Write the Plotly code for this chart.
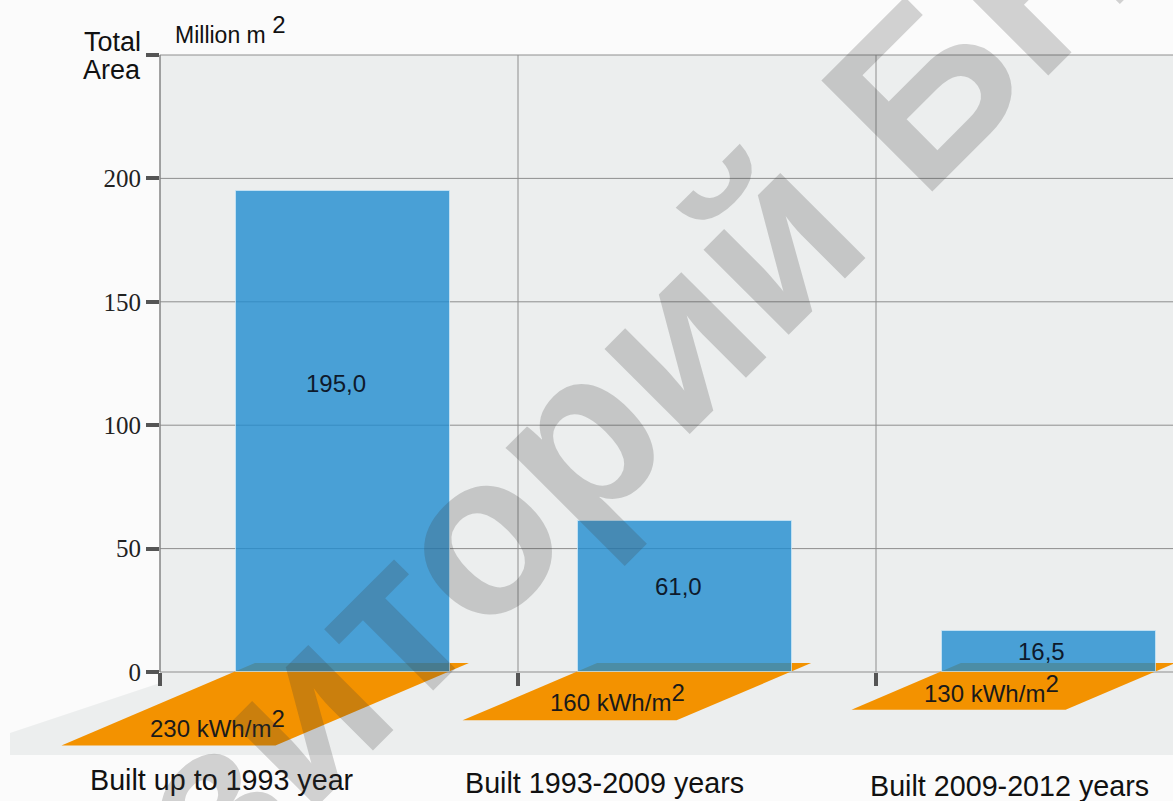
import plotly.graph_objects as go

# ---------------- data ----------------
categories = ["Built up to 1993 year", "Built 1993-2009 years", "Built 2009-2012 years"]
total_area = [195.0, 61.0, 16.5]            # million m2
area_labels = ["195,0", "61,0", "16,5"]
energy = [230, 160, 130]                      # kWh/m2
energy_labels = ["230 kWh/m", "160 kWh/m", "130 kWh/m"]
y_ticks = [0, 50, 100, 150, 200, 250]
y_ticktext = ["0", "50", "100", "150", "200", ""]

# ---------------- geometry / style ----------------
W, H = 1173, 801
ML, MR, MT, MB = 160, 0, 55, 46
PX_X = 358.0                    # px per x unit
PX_Y = 2.468                    # px per y unit
XR = [0, (W - ML - MR) / PX_X]
YR = [-(H - MB - 672) / PX_Y, 250.0]

bar_offset = [0.212, 0.168, 0.184]
bar_width = 0.598
label_y = [117, 34.5, 8.2]
cat_label_x = [0.173, 1.243, 2.374]
cat_label_py = [780, 783, 786]
energy_label_px = [(148, 723), (548, 697), (922, 688)]

BLUE = "rgba(32,140,208,0.8)"
ORANGE = "#F39200"
PLOT_BG = "#eceeee"
GRID = "#8e8e8e"


def xp(x):
    return (x - XR[0]) / (XR[1] - XR[0])


def yp(y):
    return (y - YR[0]) / (YR[1] - YR[0])


def py2paper(py):
    return (H - MB - py) / (H - MB - MT)


def px2paper(px):
    return (px - ML) / (W - ML - MR)


fig = go.Figure()

fig.add_trace(go.Bar(
    x=list(range(len(categories))), y=total_area,
    offset=bar_offset, width=bar_width,
    marker=dict(color=BLUE, line=dict(color="rgba(210,235,250,0.7)", width=1)),
    hoverinfo="y", showlegend=False,
))

shapes = []
# plot background
shapes.append(dict(type="rect", xref="paper", yref="paper", x0=0, x1=1, y0=0, y1=1,
                   fillcolor=PLOT_BG, line=dict(width=0), layer="below"))
# floor extension left of the axis
shapes.append(dict(type="path", xref="paper", yref="paper",
                   path=f"M {px2paper(10):.4f} 0 L {px2paper(10):.4f} {py2paper(733):.4f} "
                        f"L 0 {py2paper(683):.4f} L 0 0 Z",
                   fillcolor=PLOT_BG, line=dict(width=0), layer="below"))
# horizontal grid lines
for t in y_ticks:
    shapes.append(dict(type="line", xref="paper", yref="paper", x0=0, x1=1,
                       y0=yp(t), y1=yp(t), line=dict(color=GRID, width=1), layer="below"))
# vertical grid lines (stop at zero)
for i in range(1, len(categories)):
    shapes.append(dict(type="line", xref="paper", yref="paper", x0=xp(i), x1=xp(i),
                       y0=yp(0), y1=yp(250), line=dict(color=GRID, width=1), layer="below"))
# y axis line
shapes.append(dict(type="line", xref="paper", yref="paper", x0=0, x1=0,
                   y0=yp(0), y1=yp(250), line=dict(color="#858585", width=1.5), layer="below"))

# orange energy parallelograms (depth scaled by energy demand)
TOP = 3.6
K_DEPTH = 0.145
SHIFT = 0.053
SLANT = 2.468 * 2.35 / 358
annotations = []
for i, e in enumerate(energy):
    left = i + bar_offset[i] + SHIFT
    right = left + bar_width
    depth = e * K_DEPTH
    slant = depth * SLANT
    bot = TOP - depth
    path = (f"M {xp(left):.4f} {yp(TOP):.4f} L {xp(right):.4f} {yp(TOP):.4f} "
            f"L {xp(right - slant):.4f} {yp(bot):.4f} L {xp(left - slant):.4f} {yp(bot):.4f} Z")
    shapes.append(dict(type="path", xref="paper", yref="paper", path=path,
                       fillcolor=ORANGE, line=dict(width=0), layer="below"))
    lx, ly = energy_label_px[i]
    annotations.append(dict(
        x=px2paper(lx), y=py2paper(ly), xref="paper", yref="paper", showarrow=False,
        text=energy_labels[i] + '<sup><span style="font-size:24px">2</span></sup>',
        font=dict(family="Liberation Sans, Arial", size=24, color="#1a1a1a"),
        xanchor="left", yanchor="middle"))

# bar value labels
for i, v in enumerate(total_area):
    annotations.append(dict(
        x=i + bar_offset[i] + bar_width / 2 - 0.02, y=label_y[i], xref="x", yref="y",
        text=area_labels[i], showarrow=False,
        font=dict(family="Liberation Sans, Arial", size=24, color="#0e1a2c")))

# category labels
for i, c in enumerate(categories):
    annotations.append(dict(
        x=cat_label_x[i], y=py2paper(cat_label_py[i]), xref="x", yref="paper",
        text=c, showarrow=False, xanchor="center", yanchor="middle",
        font=dict(family="Liberation Sans, Arial", size=28.7, color="#111111")))

# axis titles
annotations.append(dict(x=px2paper(143), y=py2paper(42), xref="paper", yref="paper",
                        text="Total", showarrow=False, xanchor="right", yanchor="middle",
                        font=dict(family="Liberation Sans, Arial", size=27, color="#111111")))
annotations.append(dict(x=px2paper(143), y=py2paper(70), xref="paper", yref="paper",
                        text="Area", showarrow=False, xanchor="right", yanchor="middle",
                        font=dict(family="Liberation Sans, Arial", size=27, color="#111111")))
annotations.append(dict(x=px2paper(173), y=py2paper(30), xref="paper", yref="paper",
                        text='Million m <sup><span style="font-size:24px">2</span></sup>',
                        showarrow=False, xanchor="left", yanchor="middle",
                        font=dict(family="Liberation Sans, Arial", size=23, color="#111111")))

# watermark
annotations.append(dict(x=px2paper(540), y=py2paper(472), xref="paper", yref="paper",
                        text="<b>Репозиторий БНТУ</b>", showarrow=False, textangle=-45,
                        xanchor="center", yanchor="middle",
                        font=dict(family="Liberation Sans, Arial", size=228,
                                  color="rgba(60,60,60,0.22)")))

fig.update_layout(
    width=W, height=H,
    margin=dict(l=ML, r=MR, t=MT, b=MB, pad=0),
    paper_bgcolor="#fbfbfb", plot_bgcolor="rgba(0,0,0,0)",
    shapes=shapes, annotations=annotations,
    bargap=0,
    xaxis=dict(range=XR, showgrid=False, zeroline=False, showline=False,
               tickvals=list(range(len(categories))), ticks="outside", ticklen=13,
               tickwidth=4, tickcolor="#555555", showticklabels=False,
               anchor="free", position=yp(0), fixedrange=True),
    yaxis=dict(range=YR, showgrid=False, zeroline=False, showline=False,
               tickvals=y_ticks, ticktext=y_ticktext, ticks="outside", ticklen=13,
               tickwidth=4, tickcolor="#555555",
               tickfont=dict(family="Liberation Serif, Times New Roman", size=25, color="#222222"),
               fixedrange=True),
)

fig.write_html("out.html", config={"displayModeBar": False},
               post_script="document.body.style.margin='0px';")
